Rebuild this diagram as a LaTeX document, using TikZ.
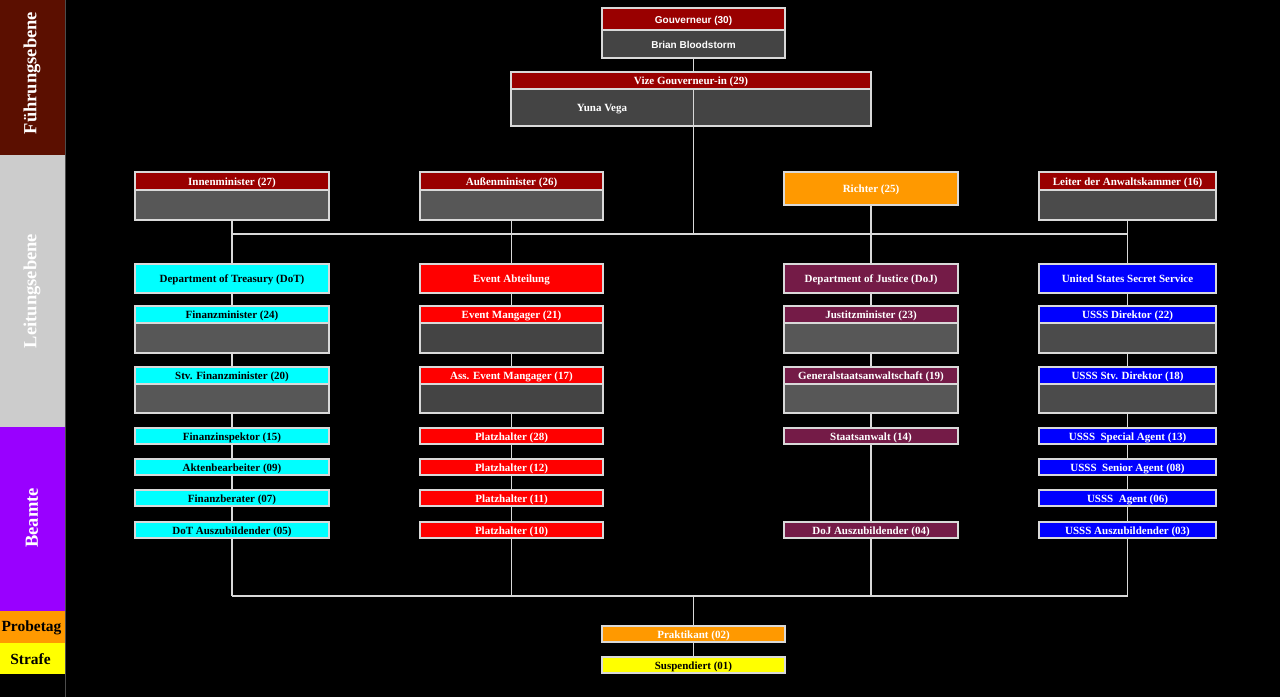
\documentclass[tikz,border=0pt]{standalone}
\usepackage{fontspec}
\setmainfont{Liberation Serif}
\newfontfamily\sansf{Liberation Sans}
\usetikzlibrary{backgrounds}
\definecolor{hdred}{HTML}{990000}
\definecolor{bodyA}{HTML}{575757}
\definecolor{bodyB}{HTML}{444444}
\definecolor{bodyC}{HTML}{4B4B4B}
\definecolor{lineC}{HTML}{D9D9D9}
\definecolor{dojC}{HTML}{741B47}
\definecolor{orangeC}{HTML}{FF9900}
\definecolor{cyanC}{HTML}{00FFFF}
\definecolor{yellowC}{HTML}{FFFF00}
\definecolor{redC}{HTML}{FF0000}
\definecolor{blueC}{HTML}{0000FF}
\definecolor{sideA}{HTML}{5B0F00}
\definecolor{sideB}{HTML}{CCCCCC}
\definecolor{sideC}{HTML}{9900FF}
\tikzset{
  rb/.style={draw=lineC, line width=1.2pt, inner sep=0pt,
    text height=9.2pt, text depth=1pt,
    font=\fontsize{11}{12}\selectfont\bfseries},
  conn/.style={draw=lineC, line width=1.2pt},
  side/.style={inner sep=0pt, font=\fontsize{18.5}{20}\selectfont\bfseries, text=white}
}
% \rbox{name}{x1}{y1}{x2}{y2}{fill}{textcolor}{text}
\newcommand\rbox[8]{\node[rb, fill=#6, text=#7, minimum width={(#4-#2)*1pt}, minimum height={(#5-#3)*1pt}] (#1) at ({(#2+#4)/2},{(#3+#5)/2}) {#8};}
\begin{document}
\begin{tikzpicture}[x=1pt,y=-1pt]
\useasboundingbox (0,0) rectangle (1280,697);
% sidebar
\fill[sideA] (0,0) rectangle (65,155);
\fill[sideB] (0,155) rectangle (65,427);
\fill[sideC] (0,427) rectangle (65,611);
\fill[orangeC] (0,611) rectangle (65,643);
\fill[yellowC] (0,643) rectangle (65,674);
\node[side, rotate=90] (sfu) at (32,73) {Führungsebene};
\node[side, rotate=90] (sle) at (32,291) {Leitungsebene};
\node[side, rotate=90] (sbe) at (32,518) {Beamte};
\node[side, text=black, font=\fontsize{15.5}{17}\selectfont\bfseries] (spr) at (31.5,628) {Probetag};
\node[side, text=black, font=\fontsize{15.5}{17}\selectfont\bfseries] (sst) at (30.5,659.5) {Strafe};

% top
\rbox{govH}{602}{8}{785}{30}{hdred}{white}{\sansf\bfseries\fontsize{10}{11}\selectfont Gouverneur (30)}
\rbox{govB}{602}{30}{785}{58}{bodyB}{white}{\sansf\bfseries\fontsize{10}{11}\selectfont Brian Bloodstorm}
\rbox{vizH}{511}{72}{871}{89}{hdred}{white}{Vize Gouverneur-in (29)}
\rbox{vizB}{511}{89}{871}{126}{bodyB}{white}{}
\node[rb, draw=none, fill=none, text=white] (yuna) at (602,107.5) {Yuna Vega};

% column 1
\rbox{innH}{135}{172}{329}{190}{hdred}{white}{Innenminister (27)}
\rbox{innB}{135}{190}{329}{220}{bodyA}{white}{}
\rbox{dot}{135}{264}{329}{293}{cyanC}{black}{Department of Treasury (DoT)}
\rbox{finH}{135}{306}{329}{323}{cyanC}{black}{Finanzminister (24)}
\rbox{finB}{135}{323}{329}{353}{bodyA}{white}{}
\rbox{stvH}{135}{367}{329}{384}{cyanC}{black}{Stv. Finanzminister (20)}
\rbox{stvB}{135}{384}{329}{413}{bodyA}{white}{}
\rbox{fi}{135}{428}{329}{444}{cyanC}{black}{Finanzinspektor (15)}
\rbox{ak}{135}{459}{329}{475}{cyanC}{black}{Aktenbearbeiter (09)}
\rbox{fb}{135}{490}{329}{506}{cyanC}{black}{Finanzberater (07)}
\rbox{dotaz}{135}{522}{329}{538}{cyanC}{black}{DoT Auszubildender (05)}

% column 2
\rbox{ausH}{420}{172}{603}{190}{hdred}{white}{Außenminister (26)}
\rbox{ausB}{420}{190}{603}{220}{bodyA}{white}{}
\rbox{ev}{420}{264}{603}{293}{redC}{white}{Event Abteilung}
\rbox{emH}{420}{306}{603}{323}{redC}{white}{Event Mangager (21)}
\rbox{emB}{420}{323}{603}{353}{bodyB}{white}{}
\rbox{aemH}{420}{367}{603}{384}{redC}{white}{Ass. Event Mangager (17)}
\rbox{aemB}{420}{384}{603}{413}{bodyB}{white}{}
\rbox{pa}{420}{428}{603}{444}{redC}{white}{Platzhalter (28)}
\rbox{pb}{420}{459}{603}{475}{redC}{white}{Platzhalter (12)}
\rbox{pc}{420}{490}{603}{506}{redC}{white}{Platzhalter (11)}
\rbox{pd}{420}{522}{603}{538}{redC}{white}{Platzhalter (10)}

% column 3
\rbox{ri}{784}{172}{958}{205}{orangeC}{white}{Richter (25)}
\rbox{doj}{784}{264}{958}{293}{dojC}{white}{Department of Justice (DoJ)}
\rbox{jmH}{784}{306}{958}{323}{dojC}{white}{Justitzminister (23)}
\rbox{jmB}{784}{323}{958}{353}{bodyA}{white}{}
\rbox{gsH}{784}{367}{958}{384}{dojC}{white}{Generalstaatsanwaltschaft (19)}
\rbox{gsB}{784}{384}{958}{413}{bodyA}{white}{}
\rbox{sa}{784}{428}{958}{444}{dojC}{white}{Staatsanwalt (14)}
\rbox{dojaz}{784}{522}{958}{538}{dojC}{white}{DoJ Auszubildender (04)}

% column 4
\rbox{leH}{1039}{172}{1216}{190}{hdred}{white}{Leiter der Anwaltskammer (16)}
\rbox{leB}{1039}{190}{1216}{220}{bodyC}{white}{}
\rbox{us}{1039}{264}{1216}{293}{blueC}{white}{United States Secret Service}
\rbox{udH}{1039}{306}{1216}{323}{blueC}{white}{USSS Direktor (22)}
\rbox{udB}{1039}{323}{1216}{353}{bodyC}{white}{}
\rbox{usH}{1039}{367}{1216}{384}{blueC}{white}{USSS Stv. Direktor (18)}
\rbox{usB}{1039}{384}{1216}{413}{bodyC}{white}{}
\rbox{sp}{1039}{428}{1216}{444}{blueC}{white}{USSS\ \ Special Agent (13)}
\rbox{se}{1039}{459}{1216}{475}{blueC}{white}{USSS\ \ Senior Agent (08)}
\rbox{ag}{1039}{490}{1216}{506}{blueC}{white}{USSS\ \ Agent (06)}
\rbox{usaz}{1039}{522}{1216}{538}{blueC}{white}{USSS Auszubildender (03)}

% bottom
\rbox{pr}{602}{626}{785}{642}{orangeC}{white}{Praktikant (02)}
\rbox{su}{602}{657}{785}{673}{yellowC}{black}{Suspendiert (01)}

% junctions
\coordinate (j1) at (innB.south |- 0,234);
\coordinate (j2) at (ausB.south |- 0,234);
\coordinate (jc) at (govB.south |- 0,234);
\coordinate (jv) at (govB.south |- vizH.south);
\coordinate (jt) at (govB.south |- vizH.north);
\coordinate (j3) at (ri.south |- 0,234);
\coordinate (j4) at (leB.south |- 0,234);
\coordinate (b1) at (dotaz.south |- 0,596);
\coordinate (b2) at (pd.south |- 0,596);
\coordinate (bc) at (pr.north |- 0,596);
\coordinate (b3) at (dojaz.south |- 0,596);
\coordinate (b4) at (usaz.south |- 0,596);

\begin{pgfonlayer}{background}
\fill[black] (0,0) rectangle (1280,697);
\draw[conn] (govB.south) -- (jt);
\draw[conn] (j1) -- (j4);
\draw[conn] (b1) -- (b4);
\draw[conn] (innB.south) -- (j1) -- (dot.north);
\draw[conn] (dot) -- (finH);
\draw[conn] (finB) -- (stvH);
\draw[conn] (stvB) -- (fi);
\draw[conn] (fi) -- (ak);
\draw[conn] (ak) -- (fb);
\draw[conn] (fb) -- (dotaz);
\draw[conn] (dotaz.south) -- (b1);
\draw[conn] (ausB.south) -- (j2) -- (ev.north);
\draw[conn] (ev) -- (emH);
\draw[conn] (emB) -- (aemH);
\draw[conn] (aemB) -- (pa);
\draw[conn] (pa) -- (pb);
\draw[conn] (pb) -- (pc);
\draw[conn] (pc) -- (pd);
\draw[conn] (pd.south) -- (b2);
\draw[conn] (ri.south) -- (j3) -- (doj.north);
\draw[conn] (doj) -- (jmH);
\draw[conn] (jmB) -- (gsH);
\draw[conn] (gsB) -- (sa);
\draw[conn] (sa) -- (dojaz);
\draw[conn] (dojaz.south) -- (b3);
\draw[conn] (leB.south) -- (j4) -- (us.north);
\draw[conn] (us) -- (udH);
\draw[conn] (udB) -- (usH);
\draw[conn] (usB) -- (sp);
\draw[conn] (sp) -- (se);
\draw[conn] (se) -- (ag);
\draw[conn] (ag) -- (usaz);
\draw[conn] (usaz.south) -- (b4);
\draw[conn] (bc) -- (pr.north);
\draw[conn] (pr) -- (su);
\draw[draw=gray!60!black, line width=0.8pt] (65.4,0) -- (65.4,697);
\end{pgfonlayer}
\draw[conn] (jv) -- (jc);
\end{tikzpicture}
\end{document}
